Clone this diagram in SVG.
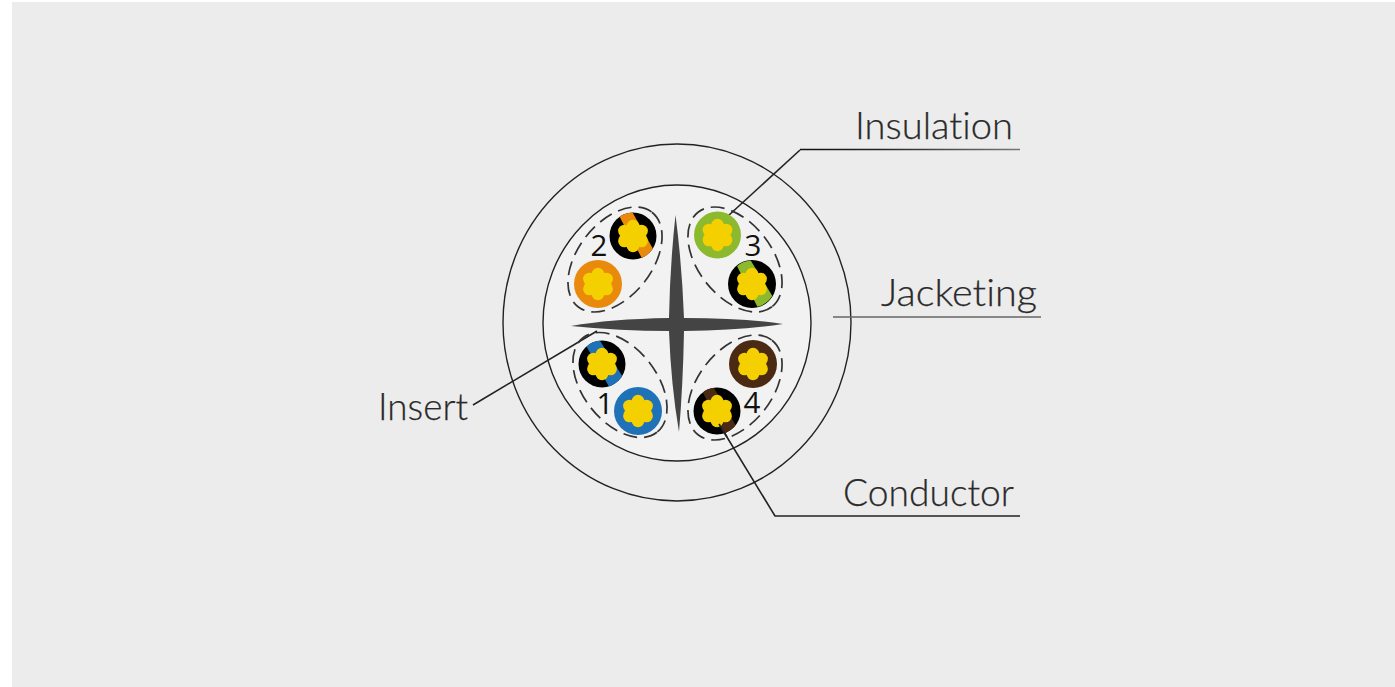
<svg xmlns="http://www.w3.org/2000/svg" width="1395" height="687" viewBox="0 0 1395 687">
<style>
.lab{font-family:"Lato","Open Sans","Liberation Sans",sans-serif;font-size:37px;font-weight:300;fill:#2a2a2a;stroke:#2a2a2a;stroke-width:.25;font-variant-ligatures:none}
.num{font-family:"Open Sans","Liberation Sans",sans-serif;font-size:29.500px;font-weight:500;fill:#111;text-anchor:middle}
.ring{fill:none;stroke:#222;stroke-width:1.4}
.dash{fill:none;stroke:#333;stroke-width:1.7;stroke-dasharray:14 7}
.lead{fill:none;stroke:#222;stroke-width:1.6}
.core{fill:#f5d000}
</style>
<defs>
<g id="flower" class="core"><circle r="10"/><circle cx="0" cy="-9.800" r="6.400"/><circle cx="8.500" cy="-4.900" r="6.400"/><circle cx="8.500" cy="4.900" r="6.400"/><circle cx="0" cy="9.800" r="6.400"/><circle cx="-8.500" cy="4.900" r="6.400"/><circle cx="-8.500" cy="-4.900" r="6.400"/></g>
<clipPath id="c"><circle r="23.500"/></clipPath>
<linearGradient id="fade" gradientUnits="userSpaceOnUse" x1="800" y1="0" x2="1020" y2="0"><stop offset="0" stop-color="#111"/><stop offset=".35" stop-color="#222"/><stop offset="1" stop-color="#777"/></linearGradient>
</defs>
<rect width="1395" height="687" fill="#fff"/>
<rect x="12" y="2" width="1383" height="685" fill="#ececec"/>
<g id="jacket"><ellipse class="ring" cx="677" cy="322.500" rx="174" ry="178.500"/></g>
<g id="inner"><ellipse cx="677" cy="323" rx="134" ry="138" fill="#f2f2f2" stroke="#222" stroke-width="1.400"/></g>
<g id="insert"><path d="M675.500 215Q682 265 684 318Q745 318 783 324Q745 330 684 331Q683 385 679 432Q671 385 669 331Q620 331 571 326Q610 319 669 318Q670 265 675.500 215Z" fill="#444"/></g>
<g id="connectors">
<path class="lead" d="M728 216L800 150"/>
<path class="lead" d="M800 149.500H1020" style="stroke:url(#fade)"/>
<path class="lead" d="M833 317H1041" style="stroke:#666"/>
<path class="lead" d="M473 405L597 331"/>
<path class="lead" d="M719 424L775 516H1020"/>
</g>
<g id="pair2">
<ellipse class="dash" cx="615" cy="259.500" rx="60" ry="37" transform="rotate(-52 615 259.500)"/>
<g transform="translate(633 236)"><circle r="23.500" fill="#000"/><g clip-path="url(#c)"><path d="M-16 -24L-3 -28L24 20L12 28Z" fill="#ea8a0c"/></g><use href="#flower"/></g>
<g transform="translate(598 284)"><circle r="24" fill="#ea8a0c"/><use href="#flower"/></g>
<text class="num" x="599" y="255.500">2</text>
</g>
<g id="pair3">
<ellipse class="dash" cx="735" cy="259.500" rx="60" ry="37" transform="rotate(52 735 259.500)"/>
<g transform="translate(717.500 235)"><circle r="23.500" fill="#8cb92e"/><use href="#flower"/></g>
<g transform="translate(752 284)"><circle r="24" fill="#000"/><g clip-path="url(#c)"><path d="M-18 -24L-4 -28L24 18L8 28Z" fill="#8cb92e"/></g><use href="#flower"/></g>
<text class="num" x="753" y="256">3</text>
</g>
<g id="pair1">
<ellipse class="dash" cx="620" cy="385" rx="60" ry="37" transform="rotate(52 620 385)"/>
<g transform="translate(602 364)"><circle r="23.500" fill="#000"/><g clip-path="url(#c)"><path d="M-18 -22L-5 -28L24 18L10 28Z" fill="#1f72b8"/></g><use href="#flower"/></g>
<g transform="translate(638 411)"><circle r="24" fill="#1f72b8"/><use href="#flower"/></g>
<text class="num" x="605" y="414">1</text>
</g>
<g id="pair4">
<ellipse class="dash" cx="735" cy="387.500" rx="60" ry="37" transform="rotate(-52 735 387.500)"/>
<g transform="translate(753 364)"><circle r="24" fill="#4a2a12"/><use href="#flower"/></g>
<g transform="translate(717 411)"><circle r="23.500" fill="#000"/><g clip-path="url(#c)"><path d="M-16 -22L-6 -28L22 20L10 28Z" fill="#4a2a12"/></g><use href="#flower"/></g>
<text class="num" x="752" y="413">4</text>
<path class="lead" d="M719 424L727 437"/>
</g>
<g id="labels">
<text class="lab" x="855" y="139" textLength="158" lengthAdjust="spacingAndGlyphs">Insulation</text>
<text class="lab" x="881" y="306" textLength="156" lengthAdjust="spacingAndGlyphs">Jacketing</text>
<text class="lab" x="378" y="420" textLength="90" lengthAdjust="spacingAndGlyphs">Insert</text>
<text class="lab" x="843" y="506" textLength="171" lengthAdjust="spacingAndGlyphs">Conductor</text>
</g>
</svg>
